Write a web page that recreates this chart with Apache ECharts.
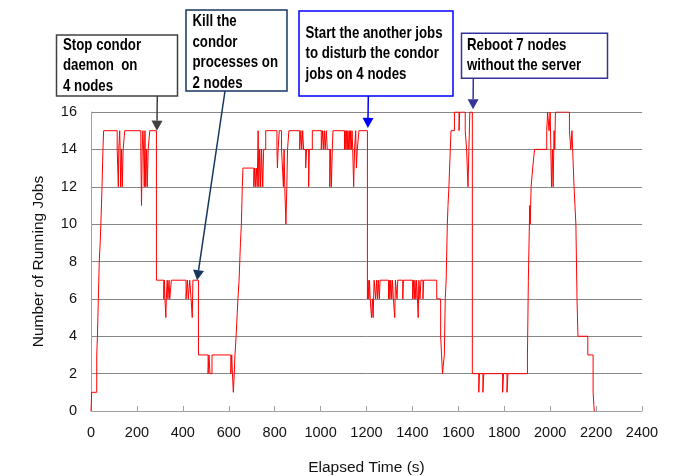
<!DOCTYPE html>
<html>
<head>
<meta charset="utf-8">
<script src="https://cdn.jsdelivr.net/npm/echarts@6/dist/echarts.min.js"></script>
<style>
html,body{margin:0;padding:0;background:#fff;}
#main{width:697px;height:476px;}
</style>
</head>
<body>
<div id="main"></div>
<script>
// Change events: at time t (s), number of running jobs becomes v
const times = [
  0,3,25,28,30,32,36,40,43,48,52,55,
  114,119,121,125,127,129,133,136,140,147,
  217,220,223,226,229,232,235,238,242,245,249,256,
  285,317,320,322,326,328,332,335,340,343,350,
  414,420,424,430,436,441,444,
  468,510,514,518,527,
  609,613,616,620,624,627,632,640,645,651,655,659,662,
  709,713,716,720,724,728,731,735,739,743,748,752,761,
  810,812,815,820,830,838,841,844,849,853,856,862,
  909,914,918,922,926,935,939,948,951,964,
  1003,1008,1012,1016,1020,1025,1029,1040,1043,1047,1051,1054,
  1104,1107,1110,1113,1116,1119,1122,1125,1128,1131,1134,1137,1140,1144,1148,1153,1156,1160,1167,
  1204,1207,1210,1213,1216,1222,1226,1229,1233,1240,1244,1248,1251,1256,1259,
  1296,1299,1302,1306,1310,1313,1317,1323,1326,1333,1336,1358,1361,
  1401,1404,1408,1411,1415,1418,1422,1425,1428,1433,1437,1446,1449,
  1506,1523,1527,1531,1539,1543,1547,1552,1555,1559,1562,1565,1568,1583,1603,1606,1630,1636,1642,1646,1650,
  1661,1689,1692,1707,1711,1793,1797,1812,1816,
  1901,1905,1908,1911,1913,1917,1924,1932,
  1985,1989,1995,2000,2003,2006,2010,2013,2017,2020,2023,
  2084,2090,2095,2098,2104,2112,2117,2121,2164,2187,2192,2196
];
const jobs = [
  0,1,3,4,5,6,8,9,10,12,14,15,
  14,12,14,15,14,12,14,12,14,15,
  14,11,14,15,14,12,15,12,14,12,14,15,
  7,6,7,6,5,6,7,6,7,6,7,
  6,7,6,7,6,5,7,
  3,2,3,2,3,
  2,3,2,1,2,3,4,6,7,9,10,12,13,
  12,13,12,13,12,15,12,14,12,14,12,14,15,
  14,13,14,15,14,12,14,12,10,12,14,15,
  14,15,14,15,14,13,14,12,14,15,
  14,15,14,15,14,15,14,12,14,12,14,15,
  14,15,14,15,14,15,14,15,14,15,14,15,14,12,14,15,13,14,15,
  6,7,6,7,6,5,6,5,7,6,7,6,7,6,7,
  6,7,6,7,6,7,6,5,7,6,7,6,7,
  6,7,6,7,6,7,6,5,7,6,7,6,7,
  6,4,3,2,3,6,7,10,11,12,13,14,15,16,15,16,15,14,12,14,16,
  2,1,2,1,2,1,2,1,2,
  3,7,9,11,10,12,13,14,
  15,16,15,16,14,12,14,12,15,14,16,
  15,14,15,14,12,10,6,4,3,1,0
];
const xTicks = [0,200,400,600,800,1000,1200,1400,1600,1800,2000,2200,2400];
const yTicks = [0,2,4,6,8,10,12,14,16];
const annoTexts = [
  ['Stop condor', 'daemon  on', '4 nodes'],
  ['Kill the', 'condor', 'processes on', '2 nodes'],
  ['Start the another jobs', 'to disturb the condor', 'jobs on 4 nodes'],
  ['Reboot 7 nodes', 'without the server']
];
// arrow targets in data coordinates [time, jobs]
const annoTargets = [[287, 15], [462, 7], [1206, 15.15], [1664, 16.15]];

const chart = echarts.init(document.getElementById('main'), null, {renderer: 'canvas'});
const seriesData = times.map((t, i) => [t, jobs[i]]);

chart.setOption({
  animation: false,
  backgroundColor: '#ffffff',
  grid: {left: 91, right: 55, top: 112, bottom: 65, containLabel: false, outerBoundsMode: 'none'},
  xAxis: {
    type: 'value', min: xTicks[0], max: xTicks[xTicks.length - 1], interval: 200,
    name: 'Elapsed Time (s)', nameLocation: 'middle', nameGap: 49,
    nameTextStyle: {fontFamily: 'Liberation Sans', fontSize: 15.5, color: '#111'},
    axisLine: {lineStyle: {color: '#a0a0a0', width: 1}},
    axisTick: {show: true, inside: true, length: 5, lineStyle: {color: '#a0a0a0'}},
    axisLabel: {fontFamily: 'Liberation Sans', fontSize: 14.5, color: '#111', margin: 14,
      formatter: v => String(v)},
    splitLine: {show: false}
  },
  yAxis: {
    type: 'value', min: yTicks[0], max: yTicks[yTicks.length - 1], interval: 2,
    name: 'Number of Running Jobs', nameLocation: 'middle', nameGap: 44, nameRotate: 90,
    nameTextStyle: {fontFamily: 'Liberation Sans', fontSize: 15.5, color: '#111'},
    axisLine: {show: true, lineStyle: {color: '#a0a0a0', width: 1}},
    axisTick: {show: false},
    axisLabel: {fontFamily: 'Liberation Sans', fontSize: 14.5, color: '#111', margin: 14},
    splitLine: {show: true, lineStyle: {color: '#868686', width: 1}}
  },
  series: [{
    type: 'line', step: 'end', data: seriesData, showSymbol: false,
    lineStyle: {color: '#ff0000', width: 1}, z: 3
  }]
});

// Annotation boxes (layout) and arrows
const boxes = [
  {x: 56.5, y: 35, w: 121, h: 61, tx: 63, ty: 35, lh: 20.5, color: '#404040', from: [157.3, 96]},
  {x: 186, y: 10, w: 101, h: 81, tx: 192.5, ty: 11.5, lh: 20.4, color: '#17375e', from: [225, 91]},
  {x: 299, y: 11, w: 154, h: 85, tx: 305.5, ty: 23, lh: 20.4, color: '#0000ff', from: [368.3, 96]},
  {x: 461.5, y: 33.3, w: 146, h: 45, tx: 467, ty: 34.8, lh: 20.6, color: '#333399', from: [473.3, 78.3]}
];
const graphics = [];
boxes.forEach((b, i) => {
  graphics.push({
    type: 'rect', shape: {x: b.x, y: b.y, width: b.w, height: b.h},
    style: {fill: '#ffffff', stroke: b.color, lineWidth: 1.5}, z: 10
  });
  graphics.push({
    type: 'text', x: b.tx, y: b.ty, z: 11, scaleX: 0.78,
    style: {
      text: annoTexts[i].join('\n'), fill: '#000',
      font: 'bold 17px "Liberation Sans", Arial, sans-serif',
      lineHeight: b.lh, verticalAlign: 'top', align: 'left'
    }
  });
  const tip = chart.convertToPixel({gridIndex: 0}, annoTargets[i]);
  const fx = b.from[0], fy = b.from[1];
  const dx = tip[0] - fx, dy = tip[1] - fy;
  const len = Math.sqrt(dx * dx + dy * dy);
  const ux = dx / len, uy = dy / len;
  const hl = 10, hw = 5.5;
  const bx = tip[0] - ux * hl, by = tip[1] - uy * hl;
  graphics.push({
    type: 'line', shape: {x1: fx, y1: fy, x2: bx, y2: by},
    style: {stroke: b.color, lineWidth: 1.5}, z: 12
  });
  graphics.push({
    type: 'polygon',
    shape: {points: [[tip[0], tip[1]], [bx - uy * hw, by + ux * hw], [bx + uy * hw, by - ux * hw]]},
    style: {fill: b.color}, z: 12
  });
});
chart.setOption({graphic: graphics});
</script>
</body>
</html>
